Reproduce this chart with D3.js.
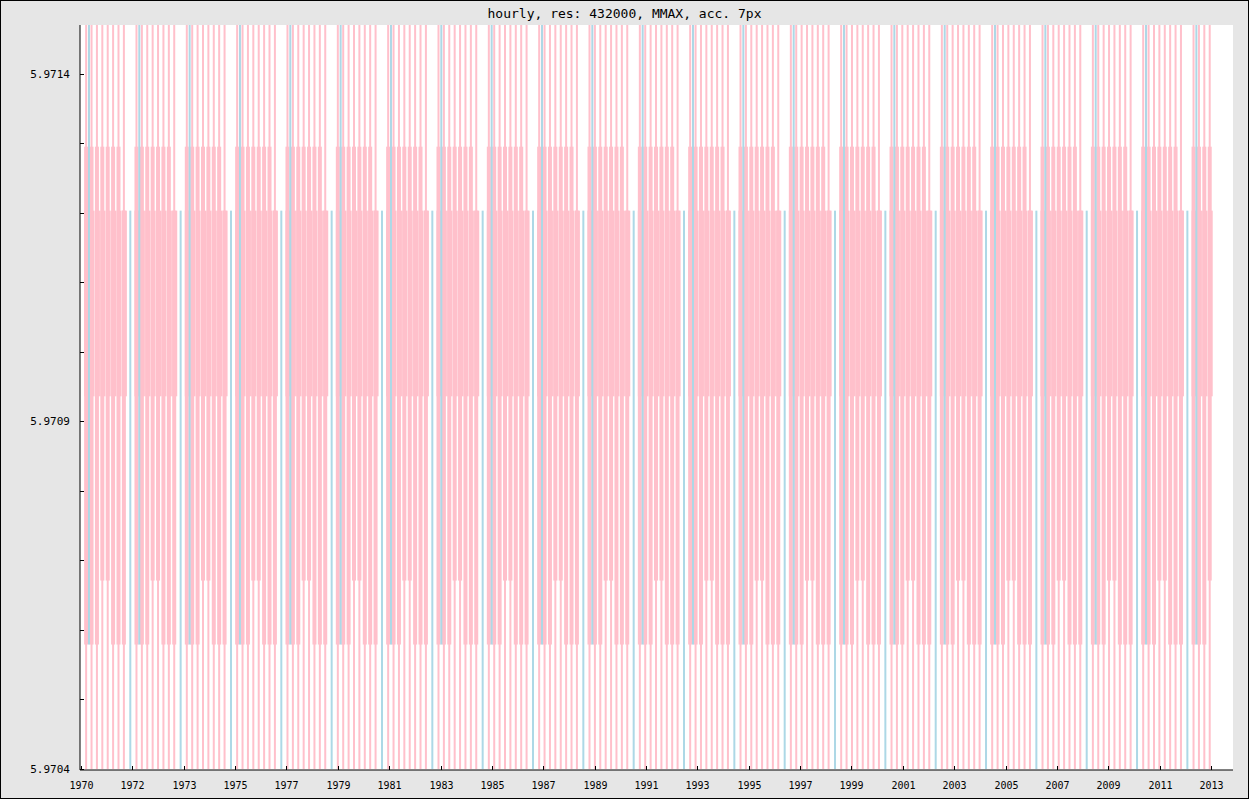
<!DOCTYPE html>
<html><head><meta charset="utf-8">
<script src="https://cdn.jsdelivr.net/npm/d3@7"></script>
<style>body{margin:0;background:#e6e6e6}svg{display:block}</style>
</head><body>
<script>
const xTickLabels = ["1970","1972","1973","1975","1977","1979","1981","1983","1985","1987","1989","1991","1993","1995","1997","1999","2001","2003","2005","2007","2009","2011","2013"];
const yTicks = [5.9704,5.9705,5.9706,5.9707,5.9708,5.9709,5.9710,5.9711,5.9712,5.9713,5.9714];
const yLabels = [5.9704,5.9709,5.9714];
const cycleStarts = [0.10,1.08,2.06,3.04,4.02,5.00,5.98,6.96,7.94,8.92,9.90,10.88,11.86,12.84,13.82,14.80,15.78,16.76,17.74,18.72,19.70,20.68,21.66];
const slotOffset = [0.00,0.105,0.21,0.315,0.42,0.525,0.63,0.735];
const slotBoxLo  = [5.970579,5.970579,5.970579,5.970671,5.970671,5.970579,5.970579,5.970579];
const slotBoxHi  = [5.971295,5.971295,5.971295,5.971295,5.971295,5.971295,5.971295,5.971203];
const coreLo = 5.970936, coreHi = 5.971203;
const blueOffset = [0.055,0.86];
const blueLo = [5.970579,5.9704];
const blueHi = [5.971500,5.971203];
const minVal = 5.9704, maxVal = 5.97150, endX = 21.98;

const W=1249,H=799, L=80, R=1233, T=25, B=770;
const svg=d3.select("body").append("svg").attr("width",W).attr("height",H);
svg.append("rect").attr("x",0.5).attr("y",0.5).attr("width",W-1).attr("height",H-1).attr("fill","#e6e6e6").attr("stroke","#000");
svg.append("rect").attr("x",L).attr("y",T).attr("width",R-L).attr("height",B-T).attr("fill","#fff");
const x=d3.scaleLinear().domain([0,22]).range([81,1211]);
const y=d3.scaleLinear().domain([5.9704,5.97147]).range([769,25]);
svg.append("clipPath").attr("id","c").append("rect").attr("x",L).attr("y",T).attr("width",R-L).attr("height",B-T);
const g=svg.append("g").attr("clip-path","url(#c)");
const samples=[];
cycleStarts.forEach(c=>{
  slotOffset.forEach((o,i)=>{ if(c+o<=endX) samples.push({x:c+o,lo:slotBoxLo[i],hi:slotBoxHi[i]}); });
});
const blues=[];
cycleStarts.forEach(c=>blueOffset.forEach((o,i)=>{ if(c+o<=endX) blues.push({x:c+o,lo:blueLo[i],hi:blueHi[i]}); }));
const pink="#ffc0cb", blue="#add8e6";
g.selectAll(".w").data(samples).join("rect").attr("x",d=>x(d.x)-1).attr("width",2)
 .attr("y",y(maxVal)).attr("height",y(minVal)-y(maxVal)).attr("fill",pink);
g.selectAll(".b").data(samples).join("rect").attr("x",d=>x(d.x)-2).attr("width",4)
 .attr("y",d=>y(d.hi)).attr("height",d=>y(d.lo)-y(d.hi)).attr("fill",pink);
g.selectAll(".k").data(samples).join("rect").attr("x",d=>x(d.x)-2).attr("width",5)
 .attr("y",y(coreHi)).attr("height",y(coreLo)-y(coreHi)).attr("fill",pink);
g.selectAll(".bl").data(blues).join("rect").attr("x",d=>x(d.x)-1).attr("width",2)
 .attr("y",d=>y(d.hi)).attr("height",d=>y(d.lo)-y(d.hi)).attr("fill",blue);
svg.append("line").attr("x1",L).attr("x2",L).attr("y1",T).attr("y2",B).attr("stroke","#000");
svg.append("line").attr("x1",L).attr("x2",R).attr("y1",B).attr("y2",B).attr("stroke","#000");
const f="DejaVu Sans Mono, monospace";
yTicks.forEach(v=>svg.append("line").attr("x1",L).attr("x2",L+4).attr("y1",Math.round(y(v))+0.5).attr("y2",Math.round(y(v))+0.5).attr("stroke","#000"));
yLabels.forEach(v=>svg.append("text").attr("x",L-10).attr("y",y(v)+4).attr("text-anchor","end").attr("font-family",f).attr("font-size",11).text(v.toFixed(4)));
xTickLabels.forEach((t,i)=>{
  const px=Math.round(x(i))+0.5;
  svg.append("line").attr("x1",px).attr("x2",px).attr("y1",B).attr("y2",B-4).attr("stroke","#000");
  svg.append("text").attr("x",px).attr("y",B+19).attr("text-anchor","middle").attr("font-family",f).attr("font-size",10).text(t);
});
svg.append("text").attr("x",W/2).attr("y",18).attr("text-anchor","middle").attr("font-family",f).attr("font-size",13).text("hourly, res: 432000, MMAX, acc. 7px");
</script>
</body></html>
